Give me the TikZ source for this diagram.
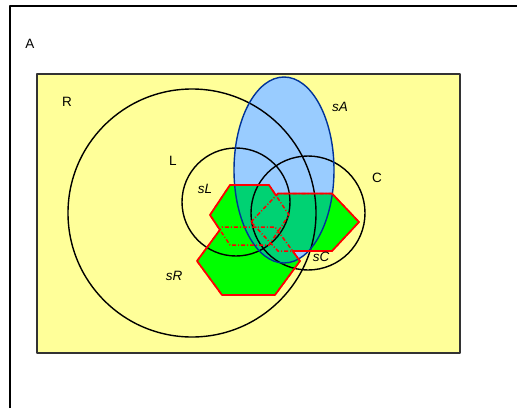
\documentclass[tikz,border=0pt]{standalone}
\usepackage{fontspec}
\setmainfont{Liberation Sans}
\definecolor{bgyellow}{RGB}{255,255,153}
\definecolor{sablue}{RGB}{153,204,255}
\definecolor{sablueline}{RGB}{0,51,153}
\definecolor{hexgreen}{RGB}{0,255,0}
\definecolor{hexteal}{RGB}{0,210,115}
\definecolor{hexred}{RGB}{255,0,0}
\def\hexL{(210,215) -- (230,185) -- (269,185) -- (289,215) -- (269,245) -- (230,245) -- cycle}
\def\hexR{(197,261) -- (222,227) -- (275,227) -- (300,261) -- (275,295) -- (222,295) -- cycle}
\def\hexC{(251,222) -- (278,193.5) -- (332,193.5) -- (359,222) -- (332,251) -- (278,251) -- cycle}
\def\ellA{(284,170) ellipse [x radius=50, y radius=93]}
\begin{document}
\begin{tikzpicture}[x=1pt,y=-1pt, line join=round,
  lab/.style={font=\fontsize{13.5}{15}\selectfont, inner sep=0pt},
  slab/.style={font=\fontsize{13.5}{15}\selectfont\itshape, inner sep=0pt},
  circ/.style={draw=black, line width=1.4pt},
  hexdash/.style={draw=hexred, line width=1.5pt, dash pattern=on 4pt off 2pt on 1pt off 2pt},
  hexsolid/.style={draw=hexred, line width=1.7pt}]
\useasboundingbox (0,0) rectangle (517,408);
\fill[white] (0,0) rectangle (517,408);
\draw[line width=2pt] (10,408) -- (10,6) -- (517,6);
\draw[fill=bgyellow, draw=black!80, line width=1.6pt] (37,74) rectangle (460,353);
\fill[sablue] \ellA;
\fill[hexgreen] \hexL \hexR \hexC;
\begin{scope}
  \clip \ellA;
  \fill[hexteal] \hexL \hexR \hexC;
\end{scope}
\draw[circ] (192,213) circle [radius=124];
\draw[circ] (236,202) circle [radius=54];
\draw[circ] (308,213) circle [radius=57];
\draw[draw=sablueline, line width=1.4pt] \ellA;
\draw[hexdash] \hexL;
\draw[hexdash] \hexR;
\draw[hexdash] \hexC;
\begin{scope}[even odd rule]
  \clip (0,0) rectangle (517,408) \hexR;
  \clip (0,0) rectangle (517,408) \hexC;
  \draw[hexsolid] \hexL;
\end{scope}
\begin{scope}[even odd rule]
  \clip (0,0) rectangle (517,408) \hexL;
  \clip (0,0) rectangle (517,408) \hexC;
  \draw[hexsolid] \hexR;
\end{scope}
\begin{scope}[even odd rule]
  \clip (0,0) rectangle (517,408) \hexL;
  \clip (0,0) rectangle (517,408) \hexR;
  \draw[hexsolid] \hexC;
\end{scope}
\node[lab] (lA) at (30,44) {A};
\node[lab] (lR) at (67,102) {R};
\node[lab] (lL) at (173,161) {L};
\node[lab] (lC) at (377,178) {C};
\node[slab] (lsA) at (340,107) {sA};
\node[slab] (lsL) at (205,189) {sL};
\node[slab] (lsR) at (174,276) {sR};
\node[slab] (lsC) at (321,257) {sC};
\end{tikzpicture}
\end{document}
